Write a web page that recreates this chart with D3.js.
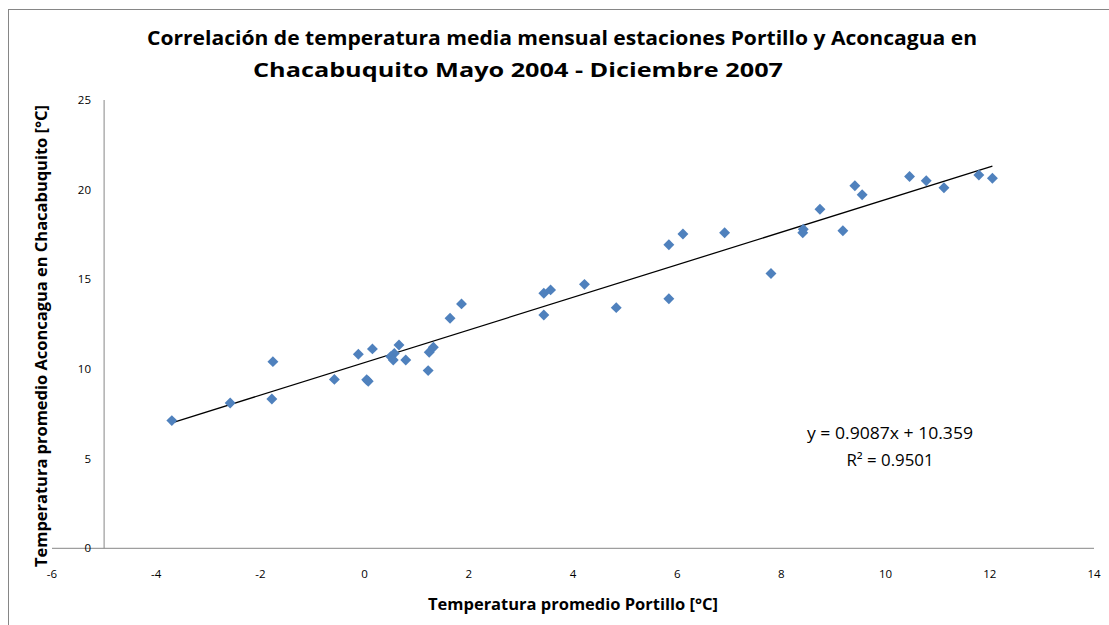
<!DOCTYPE html>
<html>
<head>
<meta charset="utf-8">
<script src="https://cdn.jsdelivr.net/npm/d3@7"></script>
<style>
  body { margin: 0; background: #fff; }
  svg { display: block; font-family: "Open Sans", sans-serif; }
  .tick-label { font-size: 11.5px; fill: #000; }
  .title { font-size: 20px; font-weight: bold; fill: #000; }
  .axis-title { font-size: 15.5px; font-weight: bold; fill: #000; }
  .eq { font-size: 16px; fill: #000; }
</style>
</head>
<body>
<svg id="chart" width="1109" height="625"></svg>
<script>
// mean monthly temperature, Portillo (x) vs Aconcagua en Chacabuquito (y)
const portillo = [-3.70, -2.58, -1.76, -1.78, -0.58, -0.12, 0.15, 0.04, 0.07, 0.66,
  0.57, 0.50, 0.55, 0.79, 1.22, 1.24, 1.32, 1.64, 1.86, 3.44,
  3.57, 3.44, 4.22, 4.83, 5.84, 5.84, 6.11, 6.91, 7.80, 8.42,
  8.41, 8.74, 9.18, 9.41, 9.55, 10.46, 10.78, 11.12, 11.79, 12.05];
const aconcagua = [7.12, 8.10, 10.41, 8.33, 9.42, 10.82, 11.12, 9.40, 9.32, 11.34,
  10.87, 10.69, 10.50, 10.50, 9.91, 10.93, 11.21, 12.83, 13.63, 14.22,
  14.41, 13.01, 14.72, 13.42, 13.92, 16.93, 17.53, 17.60, 15.32, 17.79,
  17.60, 18.91, 17.71, 20.22, 19.72, 20.73, 20.50, 20.11, 20.82, 20.64];

const xTicks = [-6, -4, -2, 0, 2, 4, 6, 8, 10, 12, 14];
const yTicks = [0, 5, 10, 15, 20, 25];
const slope = 0.9087;
const intercept = 10.359;
const r2 = 0.9501;
const yAxisCross = -5;

const titleLines = [
  "Correlación de temperatura media mensual estaciones Portillo y Aconcagua en",
  "Chacabuquito Mayo 2004 - Diciembre 2007"
];

const svg = d3.select("#chart");

// chart area border (runs off the right and bottom edges like the original)
svg.append("rect")
  .attr("x", 8.5).attr("y", 9.5)
  .attr("width", 1120).attr("height", 640)
  .attr("fill", "none").attr("stroke", "#868686").attr("stroke-width", 1);

const x = d3.scaleLinear().domain([-6, 14]).range([52, 1094]);
const y = d3.scaleLinear().domain([0, 25]).range([548.3, 100]);

// axes lines
svg.append("line")
  .attr("x1", x(-6)).attr("x2", x(14))
  .attr("y1", y(0)).attr("y2", y(0))
  .attr("stroke", "#868686").attr("stroke-width", 1);
svg.append("line")
  .attr("x1", x(yAxisCross)).attr("x2", x(yAxisCross))
  .attr("y1", y(0)).attr("y2", y(25))
  .attr("stroke", "#868686").attr("stroke-width", 1);

svg.selectAll(".xl").data(xTicks).enter().append("text")
  .attr("class", "tick-label")
  .attr("x", d => x(d))
  .attr("y", 578)
  .attr("text-anchor", "middle")
  .text(d => d);

svg.selectAll(".yl").data(yTicks).enter().append("text")
  .attr("class", "tick-label")
  .attr("x", 91)
  .attr("y", d => y(d) + 4)
  .attr("text-anchor", "end")
  .text(d => d);

// trendline
const xMin = d3.min(portillo), xMax = d3.max(portillo);
svg.append("line")
  .attr("x1", x(xMin)).attr("y1", y(slope * xMin + intercept))
  .attr("x2", x(xMax)).attr("y2", y(slope * xMax + intercept))
  .attr("stroke", "#000").attr("stroke-width", 1.25);

// markers
const pts = portillo.map((v, i) => ({x: v, y: aconcagua[i]}));
svg.selectAll(".pt").data(pts).enter().append("path")
  .attr("class", "pt")
  .attr("d", d3.symbol().type(d3.symbolDiamond2).size(76))
  .attr("transform", d => `translate(${x(d.x)},${y(d.y)})`)
  .attr("fill", "#4F81BD");

// equation label
svg.append("text").attr("class", "eq")
  .attr("x", 890).attr("y", 439).attr("text-anchor", "middle")
  .attr("textLength", 166).attr("lengthAdjust", "spacingAndGlyphs")
  .text(`y = ${slope}x + ${intercept}`);
svg.append("text").attr("class", "eq")
  .attr("x", 890).attr("y", 466).attr("text-anchor", "middle")
  .attr("textLength", 87).attr("lengthAdjust", "spacingAndGlyphs")
  .text(`R² = ${r2}`);

// titles
svg.append("text").attr("class", "title")
  .attr("x", 562).attr("y", 45).attr("text-anchor", "middle")
  .attr("textLength", 830).attr("lengthAdjust", "spacingAndGlyphs")
  .text(titleLines[0]);
svg.append("text").attr("class", "title")
  .attr("x", 518).attr("y", 77).attr("text-anchor", "middle")
  .attr("textLength", 530).attr("lengthAdjust", "spacingAndGlyphs")
  .text(titleLines[1]);

svg.append("text").attr("class", "axis-title")
  .attr("x", 573).attr("y", 610).attr("text-anchor", "middle")
  .attr("textLength", 290).attr("lengthAdjust", "spacingAndGlyphs")
  .text("Temperatura promedio Portillo [°C]");

svg.append("text").attr("class", "axis-title")
  .attr("transform", "translate(47,336) rotate(-90)")
  .attr("text-anchor", "middle")
  .attr("textLength", 462).attr("lengthAdjust", "spacingAndGlyphs")
  .text("Temperatura promedio Aconcagua en Chacabuquito [°C]");
</script>
</body>
</html>
